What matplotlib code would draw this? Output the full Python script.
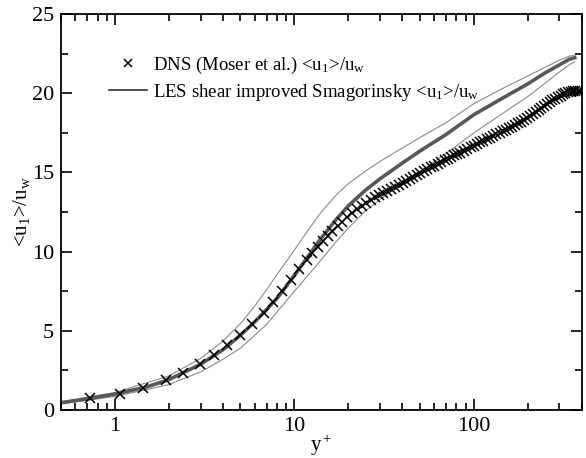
import numpy as np
import matplotlib.pyplot as plt
from matplotlib.lines import Line2D

plt.rcParams['font.family'] = 'Liberation Serif'
plt.rcParams['mathtext.fontset'] = 'custom'
plt.rcParams['mathtext.rm'] = 'Liberation Serif'
plt.rcParams['mathtext.it'] = 'Liberation Serif'
plt.rcParams['mathtext.default'] = 'regular'

# DNS (Moser et al.)
dns_y = [0.73, 1.07, 1.44, 1.93, 2.39, 2.96, 3.57, 4.21, 4.95, 5.8, 6.74, 7.6,
         8.54, 9.58, 10.6, 11.7, 12.6, 13.5, 14.4, 15.3, 16.3, 17.4, 18.5, 19.7,
         21.0, 22.3, 23.7, 25.1, 26.6, 28.1, 29.7, 31.3, 33.0, 34.7, 36.5, 38.3,
         40.2, 42.1, 44.0, 46.0, 48.0, 50.0, 52.5, 55.0, 57.5, 60.0, 63.0, 66.0,
         69.0, 72.0, 75.0, 78.0, 81.0, 84.0, 88.0, 92.0, 96.0, 100, 104, 108,
         113, 118, 123, 128, 133, 139, 145, 151, 157, 163, 170, 177, 184, 191,
         198, 206, 214, 222, 230, 238, 247, 256, 265, 274, 284, 294, 304, 314,
         324, 335, 346, 357, 368, 380, 392]
dns_u = [0.74, 1.01, 1.41, 1.89, 2.35, 2.90, 3.50, 4.10, 4.73, 5.45, 6.14, 6.84,
         7.51, 8.21, 8.90, 9.47, 9.93, 10.3, 10.65, 10.98, 11.3, 11.6, 11.9, 12.2,
         12.45, 12.68, 12.9, 13.1, 13.27, 13.42, 13.57, 13.71, 13.85, 13.98, 14.1, 14.22,
         14.35, 14.47, 14.6, 14.72, 14.84, 14.96, 15.08, 15.2, 15.32, 15.43, 15.55, 15.67,
         15.78, 15.88, 15.98, 16.08, 16.17, 16.26, 16.38, 16.49, 16.6, 16.7, 16.8, 16.9,
         17.0, 17.1, 17.2, 17.3, 17.4, 17.5, 17.6, 17.7, 17.8, 17.9, 18.0, 18.1, 18.22, 18.33,
         18.45, 18.57, 18.7, 18.82, 18.95, 19.07, 19.2, 19.32, 19.44, 19.55, 19.66, 19.76, 19.85, 19.93,
         20.0, 20.06, 20.1, 20.13, 20.15, 20.16, 20.17]

# LES shear improved Smagorinsky: media e limites
les_y = [0.5, 0.7, 1, 1.5, 2, 3, 4, 5, 6, 7, 8, 10, 12, 14, 17, 20, 25, 30,
         40, 50, 70, 100, 150, 200, 250, 300, 340, 365]
les_u = [0.45, 0.7, 1.0, 1.45, 1.92, 2.88, 3.8, 4.72, 5.55, 6.35, 7.05, 8.5,
         9.75, 10.8, 12.0, 12.9, 13.9, 14.6, 15.6, 16.35, 17.4, 18.65, 19.8, 20.6,
         21.3, 21.8, 22.15, 22.25]

sup_y = [0.5, 1, 2, 3, 4, 5, 6, 7, 8, 10, 12, 14, 17, 20, 25, 30, 40, 50, 70,
         100, 150, 200, 250, 300, 340, 365]
sup_u = [0.52, 1.1, 2.15, 3.25, 4.35, 5.45, 6.55, 7.6, 8.55, 10.1, 11.4, 12.45,
         13.55, 14.3, 15.1, 15.7, 16.55, 17.2, 18.15, 19.35, 20.4, 21.1, 21.65, 22.1,
         22.35, 22.4]

inf_y = [0.5, 1, 2, 3, 4, 5, 7, 10, 13, 17, 20, 25, 30, 40, 50, 70, 100, 150,
         200, 250, 300, 340, 365]
inf_u = [0.38, 0.85, 1.6, 2.4, 3.2, 3.9, 5.4, 7.5, 9.0, 10.6, 11.5, 12.6, 13.3,
         14.3, 15.05, 16.2, 17.5, 18.85, 19.8, 20.65, 21.35, 21.8, 22.0]

fig = plt.figure(figsize=(5.86, 4.58), dpi=100)
ax = fig.add_axes([0.104, 0.105, 0.889, 0.864])

ax.plot(sup_y, sup_u, color='#8a8a8a', lw=0.8)
ax.plot(inf_y, inf_u, color='#8a8a8a', lw=0.8)
ax.plot(les_y, les_u, color='#585858', lw=2.6)
ax.plot(dns_y, dns_u, 'x', color='black', ms=7, mew=1.1)

ax.set_xscale('log')
ax.set_xlim(0.5, 400)
ax.set_ylim(0, 25)
ax.set_yticks([0, 5, 10, 15, 20, 25])
ax.set_yticks(np.arange(2.5, 25, 5), minor=True)
ax.set_xticks([1, 10, 100])
ax.set_xticklabels(['1', '10', '100'])
ax.tick_params(which='both', direction='in', top=True, right=True, labelsize=16, width=1.2)
ax.tick_params(which='major', length=8, pad=5)
ax.tick_params(which='minor', length=5)
for s in ax.spines.values():
    s.set_linewidth(1.3)

ax.set_xlabel('y$^+$', fontsize=15, labelpad=-2)
ax.set_ylabel('<u$_1$>/u$_w$', fontsize=15, labelpad=0)

handles = [Line2D([], [], ls='none', marker='x', color='black', ms=6, mew=1.1),
           Line2D([], [], color='#303030', lw=1.2)]
labels = ['DNS (Moser et al.) <u$_1$>/u$_w$',
          'LES shear improved Smagorinsky <u$_1$>/u$_w$']
ax.legend(handles, labels, loc='upper left', bbox_to_anchor=(0.06, 0.94), frameon=False,
          fontsize=13.5, handlelength=2.0, handletextpad=0.35, labelspacing=0.3)

fig.savefig('out.png', dpi=100)
